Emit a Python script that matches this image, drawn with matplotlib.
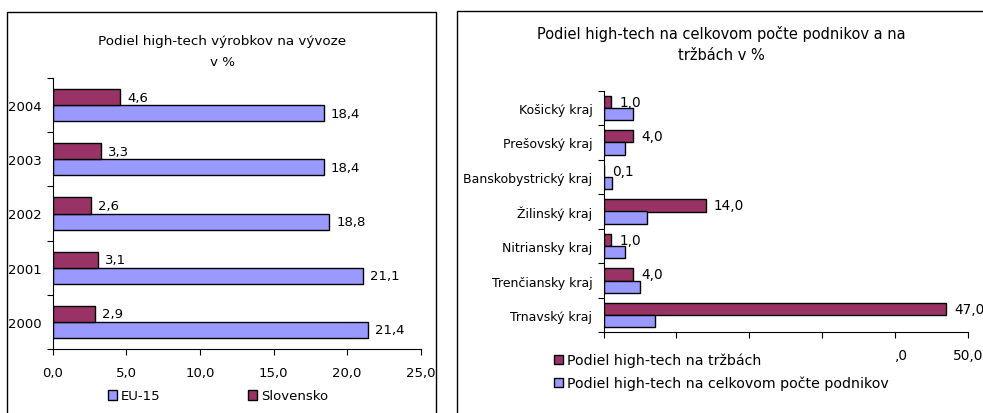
import numpy as np
import matplotlib.pyplot as plt
from matplotlib.patches import Rectangle

# left chart data
years = ['2000', '2001', '2002', '2003', '2004']
eu15 = [21.4, 21.1, 18.8, 18.4, 18.4]
slovensko = [2.9, 3.1, 2.6, 3.3, 4.6]

# right chart data
kraje = ['Trnavský kraj', 'Trenčiansky kraj', 'Nitriansky kraj', 'Žilinský kraj',
         'Banskobystrický kraj', 'Prešovský kraj', 'Košický kraj']
trzby = [47.0, 4.0, 1.0, 14.0, 0.1, 4.0, 1.0]
podniky = [7.0, 5.0, 3.0, 6.0, 1.1, 3.0, 4.0]

maroon = '#993366'
blue = '#9999FF'
fs = 9.5

plt.rcParams['font.family'] = ['DejaVu Sans']

fig = plt.figure(figsize=(9.83, 4.14), dpi=100)

# panel frames (bottoms run off the picture)
fig.patches.append(Rectangle((7/983, -0.05), (436-7)/983, 1.05 - 13/414,
                             transform=fig.transFigure, fill=False, ec='black', lw=1))
fig.patches.append(Rectangle((457/983, -0.05), 0.6, 1.05 - 12/414,
                             transform=fig.transFigure, fill=False, ec='black', lw=1))


def fmt(v):
    return ('%.1f' % v).replace('.', ',')


def style_axes(ax, n, labels, size):
    ax.spines['top'].set_visible(False)
    ax.spines['right'].set_visible(False)
    ax.set_ylim(-0.5, n - 0.5)
    ax.set_yticks(np.arange(n + 1) - 0.5)
    ax.set_yticklabels([])
    ax.set_yticks(np.arange(n), minor=True)
    ax.set_yticklabels(labels, minor=True, fontsize=size)
    ax.tick_params(axis='y', which='major', length=4, direction='out')
    ax.tick_params(axis='y', which='minor', length=0, pad=8)
    ax.tick_params(axis='x', length=4, direction='out', labelsize=fs)


# ---- left chart ----
ax1 = fig.add_axes([52.7/983, 1 - 350/414, (420.7-52.7)/983, (350-79)/414])
y = np.arange(len(years))
h = 0.296
b_eu = ax1.barh(y - h/2, eu15, h, color=blue, edgecolor='black', lw=1, label='EU-15')
b_sk = ax1.barh(y + h/2, slovensko, h, color=maroon, edgecolor='black', lw=1, label='Slovensko')
for bars, vals in ((b_eu, eu15), (b_sk, slovensko)):
    ax1.bar_label(bars, labels=[fmt(v) for v in vals], padding=5, fontsize=fs)
ax1.set_xlim(0, 25)
ax1.set_xticks(np.arange(0, 26, 5))
ax1.set_xticklabels([fmt(v) for v in np.arange(0, 26, 5)])
style_axes(ax1, len(years), years, fs)
ax1.tick_params(axis='x', pad=8)
ax1.legend(handles=[b_eu, b_sk], loc='center', bbox_to_anchor=(218/983, 1 - 397/414),
           bbox_transform=fig.transFigure, ncol=2, frameon=False, fontsize=fs,
           handlelength=0.7, handleheight=0.7, handletextpad=0.3, columnspacing=6.6)
fig.text(222/983, 1 - 42/414, 'Podiel high-tech výrobkov na vývoze', ha='center', va='center', fontsize=9.7)
fig.text(222/983, 1 - 62/414, 'v %', ha='center', va='center', fontsize=9.7)

# ---- right chart ----
ax2 = fig.add_axes([603.5/983, 1 - 333.3/414, (968-603.5)/983, (333.3-91.7)/414])
y2 = np.arange(len(kraje))
h2 = 0.35
b_tr = ax2.barh(y2 + h2/2, trzby, h2, color=maroon, edgecolor='black', lw=1,
                label='Podiel high-tech na tržbách')
b_po = ax2.barh(y2 - h2/2, podniky, h2, color=blue, edgecolor='black', lw=1,
                label='Podiel high-tech na celkovom počte podnikov')
ax2.bar_label(b_tr, labels=[fmt(v) for v in trzby], padding=6, fontsize=fs + 0.3)
ax2.set_xlim(0, 50)
ax2.set_xticks(np.arange(0, 51, 10))
# most tick labels sit under the legend box in the original; only ",0" and "50,0" show
ax2.set_xticklabels(['', '', '', '', ',0', '50,0'])
style_axes(ax2, len(kraje), kraje, 9)
ax2.tick_params(axis='x', pad=7, labelsize=fs + 0.3)
ax2.get_xticklabels()[4].set_horizontalalignment('left')
leg = ax2.legend(handles=[b_tr, b_po], loc='upper left', bbox_to_anchor=(544/983, 1 - 344/414),
                 bbox_transform=fig.transFigure, frameon=True, fancybox=False,
                 facecolor='white', edgecolor='white', framealpha=1, fontsize=10.2,
                 handlelength=0.62, handleheight=0.62, handletextpad=0.3, labelspacing=0.6,
                 borderpad=0.2)
leg.set_zorder(10)
ax2.xaxis.set_zorder(11)
fig.text(721/983, 1 - 34/414, 'Podiel high-tech na celkovom počte podnikov a na',
         ha='center', va='center', fontsize=10.5)
fig.text(721/983, 1 - 55/414, 'tržbách v %', ha='center', va='center', fontsize=10.5)

fig.savefig('out.png', dpi=100)
